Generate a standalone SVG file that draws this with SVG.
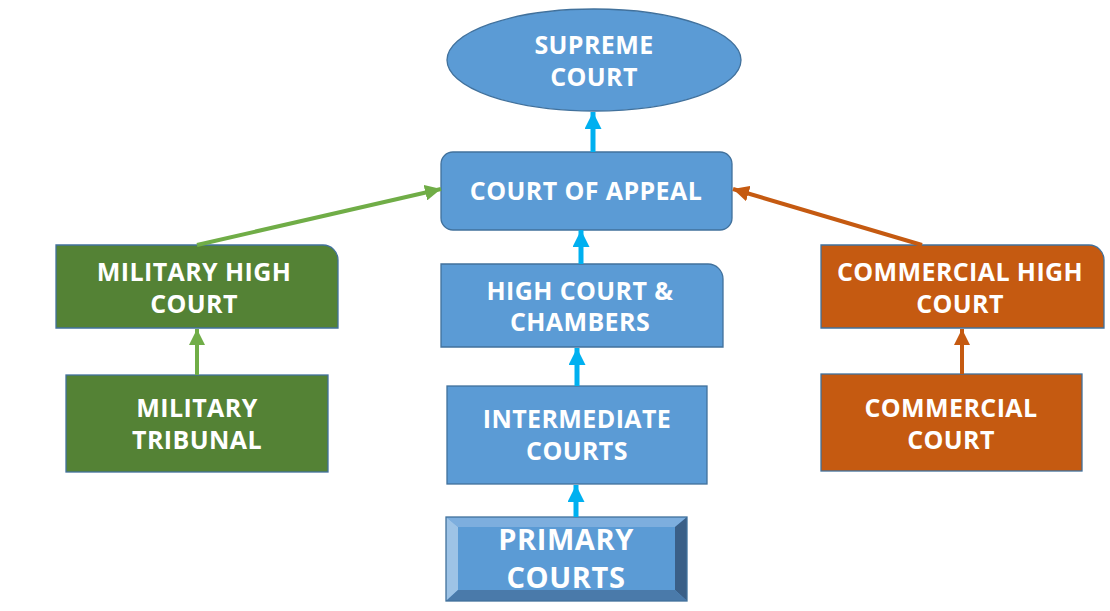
<svg xmlns="http://www.w3.org/2000/svg" width="1110" height="611" viewBox="0 0 1110 611">
<defs>
<style>
.blue{fill:#5B9BD5;stroke:#41719C;stroke-width:1.3}
.green{fill:#548235;stroke:#41719C;stroke-width:1.3}
.orange{fill:#C55A11;stroke:#41719C;stroke-width:1.3}
.t{font-family:"Open Sans",Lato,sans-serif;font-weight:bold;font-size:25px;letter-spacing:0.4px;fill:#FFFFFF;text-anchor:middle}
.big{font-size:29px;letter-spacing:0.6px}
.cb{stroke:#00B0F0;stroke-width:5;fill:none}
.cg{stroke:#70AD47;stroke-width:4;fill:none}
.co{stroke:#C55A11;stroke-width:4;fill:none}
</style>
<marker id="ab" viewBox="0 0 10 10" refX="10" refY="5" markerWidth="3.4" markerHeight="3.4" orient="auto" markerUnits="strokeWidth"><path d="M0,0 L10,5 L0,10 Z" fill="#00B0F0"/></marker>
<marker id="ag" viewBox="0 0 10 10" refX="10" refY="5" markerWidth="4" markerHeight="4" orient="auto" markerUnits="strokeWidth"><path d="M0,0 L10,5 L0,10 Z" fill="#70AD47"/></marker>
<marker id="ao" viewBox="0 0 10 10" refX="10" refY="5" markerWidth="4" markerHeight="4" orient="auto" markerUnits="strokeWidth"><path d="M0,0 L10,5 L0,10 Z" fill="#C55A11"/></marker>
</defs>
<rect width="1110" height="611" fill="#FFFFFF"/>

<g id="supreme-court">
<ellipse class="blue" cx="594" cy="60" rx="147" ry="51"/>
<text class="t" x="594" y="54">SUPREME</text>
<text class="t" x="594" y="86">COURT</text>
</g>

<g id="court-of-appeal">
<rect class="blue" x="441" y="152" width="291" height="78" rx="12" ry="12"/>
<text class="t" x="586" y="200">COURT OF APPEAL</text>
</g>

<g id="high-court">
<path class="blue" d="M441,264 H708 A15,15 0 0 1 723,279 V347 H441 Z"/>
<text class="t" x="580" y="300">HIGH COURT &amp;</text>
<text class="t" x="580" y="331">CHAMBERS</text>
</g>

<g id="intermediate-courts">
<rect class="blue" x="447" y="386" width="260" height="98"/>
<text class="t" x="577" y="428">INTERMEDIATE</text>
<text class="t" x="577" y="460">COURTS</text>
</g>

<g id="primary-courts">
<rect x="446" y="517" width="241" height="84" fill="#5B9BD5"/>
<polygon points="446,517 687,517 675,527 458,527" fill="#7DAEDE"/>
<polygon points="446,517 458,527 458,590 446,601" fill="#9DC3E6"/>
<polygon points="687,517 687,601 675,590 675,527" fill="#3A5F87"/>
<polygon points="446,601 458,590 675,590 687,601" fill="#4A7AAA"/>
<rect x="446" y="517" width="241" height="84" fill="none" stroke="#41719C" stroke-width="1.3"/>
<text class="t big" x="566" y="550">PRIMARY</text>
<text class="t big" x="566" y="588">COURTS</text>
</g>

<g id="military-high-court">
<path class="green" d="M56,245 H323 A15,15 0 0 1 338,260 V328 H56 Z"/>
<text class="t" x="194" y="281">MILITARY HIGH</text>
<text class="t" x="194" y="313">COURT</text>
</g>

<g id="military-tribunal">
<rect class="green" x="66" y="375" width="262" height="97"/>
<text class="t" x="197" y="417">MILITARY</text>
<text class="t" x="197" y="449">TRIBUNAL</text>
</g>

<g id="commercial-high-court">
<path class="orange" d="M821,245 H1089 A15,15 0 0 1 1104,260 V328 H821 Z"/>
<text class="t" x="960" y="281">COMMERCIAL HIGH</text>
<text class="t" x="960" y="313">COURT</text>
</g>

<g id="commercial-court">
<rect class="orange" x="821" y="374" width="261" height="97"/>
<text class="t" x="951" y="417">COMMERCIAL</text>
<text class="t" x="951" y="449">COURT</text>
</g>

<g id="connectors">
<line class="cb" x1="593" y1="152" x2="593" y2="112" marker-end="url(#ab)"/>
<line class="cb" x1="581" y1="264" x2="581" y2="230" marker-end="url(#ab)"/>
<line class="cb" x1="577" y1="386" x2="577" y2="348" marker-end="url(#ab)"/>
<line class="cb" x1="576" y1="517" x2="576" y2="485" marker-end="url(#ab)"/>
<line class="cg" x1="197" y1="375" x2="197" y2="329" marker-end="url(#ag)"/>
<line class="cg" x1="197" y1="245" x2="441" y2="189" marker-end="url(#ag)"/>
<line class="co" x1="962" y1="374" x2="962" y2="329" marker-end="url(#ao)"/>
<line class="co" x1="922" y1="245" x2="733" y2="189" marker-end="url(#ao)"/>
</g>
</svg>
